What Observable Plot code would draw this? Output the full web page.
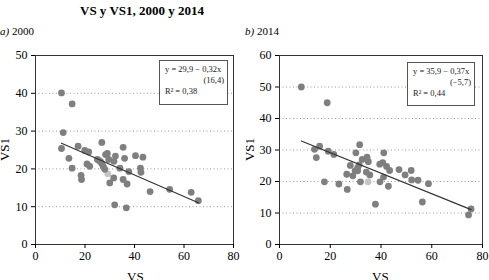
<!DOCTYPE html>
<html><head><meta charset="utf-8">
<script src="https://cdn.jsdelivr.net/npm/d3@7"></script>
<script src="https://cdn.jsdelivr.net/npm/@observablehq/plot@0.6"></script>
<style>
body{margin:0;background:#fff;}
#wrap{position:relative;width:489px;height:280px;overflow:hidden;font-family:"Liberation Serif",serif;color:#000;}
#wrap svg, #wrap svg text{font-family:"Liberation Serif",serif !important;}
.abs{position:absolute;white-space:nowrap;line-height:1;}
.panel{position:absolute;top:40px;}
.box{position:absolute;border:1.5px solid #555;background:#fff;box-sizing:border-box;font-size:8.5px;line-height:11px;padding:3px 3px 0 5px;white-space:nowrap;color:#222;}
.box .r{text-align:right;}
</style></head><body><div id="wrap"></div>
<script>
// ---- data ----
const title = "VS y VS1, 2000 y 2014";
const panelTags = ["a)", "b)"];
const panelYears = ["2000", "2014"];
const xLabel = "VS";
const yLabel = "VS1";
const xTicks = [0, 20, 40, 60, 80];
const yTicks2000 = [0, 10, 20, 30, 40, 50];
const yTicks2014 = [0, 10, 20, 30, 40, 50, 60];
const eq2000 = ["y = 29,9 \u2212 0,32x", "(16,4)", "R\u00b2 = 0,38"];
const eq2014 = ["y = 35,9 \u2212 0,37x", "(\u22125,7)", "R\u00b2 = 0,44"];

const vs2000 = [10.5,14.8,11.2,10.5,17.2,13.5,14.8,18.4,18.6,19.9,21.5,20.8,21.9,26.8,25.0,25.7,26.3,26.9,27.4,28.0,28.3,29.0,29.6,30.0,32.3,31.7,31.6,32.0,34.1,35.4,36.0,35.4,37.0,36.7,37.7,40.4,42.4,42.6,43.4,46.3,54.2,62.9,65.8];
const vs1_2000 = [40.1,37.2,29.6,25.4,26.0,22.8,20.2,18.3,17.2,24.9,24.5,21.3,20.7,27.0,22.5,22.2,21.9,21.3,20.6,19.9,23.8,24.1,22.5,16.3,23.4,22.0,17.6,10.5,20.2,25.7,22.8,17.2,16.0,9.7,19.3,23.5,20.2,19.1,23.1,14.0,14.6,13.8,11.6];
const hlVs2000 = [29.2];
const hlVs1_2000 = [18.7];

const vs2014 = [8.6,18.8,13.8,14.5,15.8,19.2,21.4,17.7,23.4,26.5,26.7,27.9,28.9,29.8,30.1,30.8,31.4,31.6,30.8,31.9,32.6,34.5,35.0,34.2,35.6,37.8,39.5,39.6,40.7,41.1,41.0,42.2,42.9,43.4,47.1,49.5,51.9,52.1,54.6,56.3,58.7,74.5,75.5];
const vs1_2014 = [50.0,45.0,30.2,27.6,31.2,29.6,28.6,19.9,19.2,22.3,17.5,25.1,21.8,23.4,29.1,24.4,25.3,31.7,23.4,19.9,27.0,27.7,26.3,23.0,22.1,12.8,25.5,19.9,26.0,29.1,21.4,24.8,18.5,23.5,23.8,22.1,23.5,20.5,20.4,13.5,19.3,9.4,11.3];
const hlVs2014 = [34.9];
const hlVs1_2014 = [19.9];

// ---- drawing ----
const wrap = document.getElementById("wrap");
function addText(html, css) {
  const d = document.createElement("div");
  d.className = "abs";
  d.innerHTML = html;
  Object.assign(d.style, css);
  wrap.appendChild(d);
  return d;
}

function panel(xs, ys, hx, hy, yTicks, left, mLeft, mRight) {
  const pts = xs.map((x, i) => ({x, y: ys[i]}));
  const hl = hx.map((x, i) => ({x, y: hy[i]}));
  const all = pts.concat(hl);
  const yMax = yTicks[yTicks.length - 1];
  const svg = Plot.plot({
    width: 245 - (left ? 1 : 0),
    height: 240,
    marginLeft: mLeft, marginRight: mRight, marginTop: 15, marginBottom: 36,
    style: {fontFamily: "'Liberation Serif', serif", fontSize: "12px", background: "transparent", color: "#000"},
    x: {domain: [0, 80], ticks: xTicks, tickSize: 4, tickPadding: 3, label: null},
    y: {domain: [0, yMax], ticks: yTicks, tickSize: 4, tickPadding: 4, label: null},
    marks: [
      Plot.gridY(yTicks.filter(t => t > 0 && t < yMax), {stroke: "#999", strokeOpacity: 1, strokeDasharray: "1,2.5"}),
      Plot.dot(hl, {x: "x", y: "y", r: 3.4, fill: "#c4c4c4", stroke: "none"}),
      Plot.dot(pts, {x: "x", y: "y", r: 3.4, fill: "#7f7f7f", stroke: "none"}),
      Plot.linearRegressionY(all, {x: "x", y: "y", ci: 0, stroke: "#333", strokeWidth: 1.2}),
      Plot.frame({stroke: "#333", strokeWidth: 1}),
      Plot.axisX({ticks: xTicks, tickSize: 4, tickPadding: 3, label: null, fontSize: 12}),
      Plot.axisY({ticks: yTicks, tickSize: 4, tickPadding: 4, label: null, fontSize: 12})
    ]
  });
  svg.classList.add("panel");
  svg.style.left = left + "px";
  wrap.appendChild(svg);
}

panel(vs2000, vs1_2000, hlVs2000, hlVs1_2000, yTicks2000, 0, 35, 12);
panel(vs2014, vs1_2014, hlVs2014, hlVs1_2014, yTicks2014, 245, 34, 7);

addText(`<b>${title}</b>`, {left: "80px", top: "4px", fontSize: "13px"});
addText(`<i>${panelTags[0]}</i> ${panelYears[0]}`, {left: "0px", top: "26px", fontSize: "11px"});
addText(`<i>${panelTags[1]}</i> ${panelYears[1]}`, {left: "245px", top: "26px", fontSize: "11px"});
addText(xLabel, {left: "127px", top: "270px", fontSize: "13px"});
addText(xLabel, {left: "372px", top: "270px", fontSize: "13px"});
addText(yLabel, {left: "-7px", top: "143px", fontSize: "13px", transform: "rotate(-90deg)"});
addText(yLabel, {left: "238px", top: "143px", fontSize: "13px", transform: "rotate(-90deg)"});

function eqBox(lines, css) {
  const d = document.createElement("div");
  d.className = "box";
  d.innerHTML = `<div>${lines[0]}</div><div class="r">${lines[1]}</div><div>${lines[2]}</div>`;
  Object.assign(d.style, css);
  wrap.appendChild(d);
}
eqBox(eq2000, {left: "159px", top: "60px", width: "69px", height: "45px"});
eqBox(eq2014, {left: "407px", top: "62px", width: "68px", height: "44px"});
</script>
</body></html>
